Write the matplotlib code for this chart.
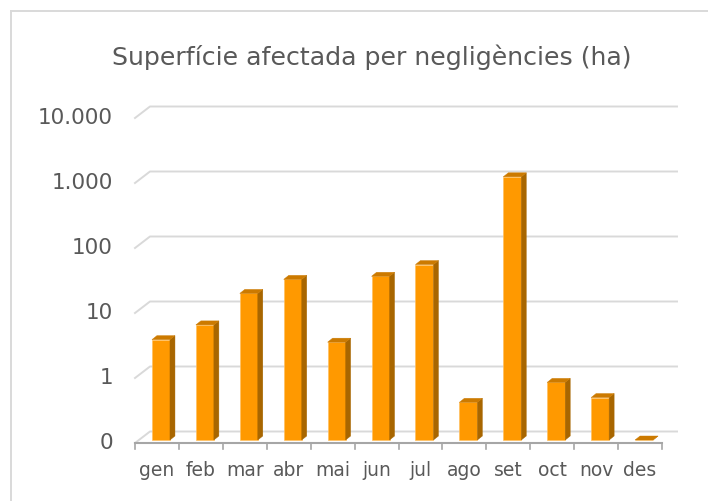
import matplotlib
matplotlib.use('Agg')
import matplotlib.pyplot as plt
from matplotlib.patches import Polygon
from matplotlib.lines import Line2D
from matplotlib.transforms import IdentityTransform, offset_copy
import numpy as np

# ---- data ----
months = ['gen', 'feb', 'mar', 'abr', 'mai', 'jun', 'jul', 'ago', 'set', 'oct', 'nov', 'des']
values = [3.5, 5.9, 18, 29.6, 3.2, 33, 50, 0.38, 1120, 0.77, 0.45, 0.1]
ytick_values = [0.1, 1, 10, 100, 1000, 10000]
ytick_labels = ['0', '1', '10', '100', '1.000', '10.000']
title = 'Superfície afectada per negligències (ha)'

# ---- style ----
W, H = 708, 501
TEXT = '#595959'
GRID = '#D9D9D9'
AXIS = '#A6A6A6'
FRONT = '#FF9900'
SIDE = '#A86600'
TOP = '#CC7A00'
FONT = 'DejaVu Sans'

DEPTH_DX, DEPTH_DY = 15, 11.5   # back wall offset (px)
BAR_DX, BAR_DY = 4, 3           # bar plane offset (px)
SIDE_DX, SIDE_DY = 5, 4         # bar depth (px)
BAR_W = 0.41

fig = plt.figure(figsize=(W / 100, H / 100), dpi=100)
ax = fig.add_axes([135 / W, (H - 443) / H, 527 / W, 325 / H])
ax.set_yscale('log')
ax.set_ylim(0.1, 10000)
ax.set_xlim(-0.5, len(months) - 0.5)
ax.axis('off')

ident = IdentityTransform()
td = ax.transData
xmin, xmax = ax.get_xlim()
front_width = td.transform((xmax, 1))[0] - td.transform((xmin, 1))[0]

# gridlines (front stub + back wall)
for v in ytick_values:
    p0 = td.transform((xmin, v))
    xs = [p0[0], p0[0] + DEPTH_DX, p0[0] + DEPTH_DX + front_width]
    ys = [p0[1], p0[1] + DEPTH_DY, p0[1] + DEPTH_DY]
    ax.add_line(Line2D(xs, ys, transform=ident, color=GRID, lw=1.4,
                       clip_on=False, zorder=1))

# front x axis + ticks
ax.plot([xmin, xmax], [0.1, 0.1], color=AXIS, lw=1.5, clip_on=False, zorder=3)
for b in np.arange(xmin, xmax + 0.01, 1.0):
    p = td.transform((b, 0.1))
    ax.add_line(Line2D([p[0], p[0]], [p[1], p[1] - 6], transform=ident,
                       color=AXIS, lw=1.2, clip_on=False, zorder=3))

# y labels
lab_tr = offset_copy(td, fig=fig, x=-22, y=0, units='dots')
for v, s in zip(ytick_values, ytick_labels):
    ax.text(xmin, v, s, transform=lab_tr, ha='right', va='center',
            fontsize=15.5, color=TEXT, family=FONT)

# x labels
xl_tr = offset_copy(td, fig=fig, x=0, y=-28, units='dots')
x = np.arange(len(months))
for xi, m in zip(x, months):
    ax.text(xi, 0.1, m, transform=xl_tr, ha='center', va='center',
            fontsize=13.5, color=TEXT, family=FONT)

# bars: front faces
bar_tr = offset_copy(td, fig=fig, x=BAR_DX, y=BAR_DY, units='dots')
heights = [v - 0.1 for v in values]
ax.bar(x, heights, bottom=0.1, width=BAR_W, color=FRONT, edgecolor='#FFC060',
       linewidth=0.5, transform=bar_tr, zorder=4, clip_on=False)

# side & top faces
for xi, v in zip(x, values):
    fl = td.transform((xi - BAR_W / 2, 0.1)) + (BAR_DX, BAR_DY)
    fr = td.transform((xi + BAR_W / 2, 0.1)) + (BAR_DX, BAR_DY)
    tl = td.transform((xi - BAR_W / 2, v)) + (BAR_DX, BAR_DY)
    tr = td.transform((xi + BAR_W / 2, v)) + (BAR_DX, BAR_DY)
    d = np.array([SIDE_DX, SIDE_DY])
    side = Polygon([fr, tr, tr + d, fr + d], closed=True, transform=ident,
                   facecolor=SIDE, edgecolor=SIDE, lw=0.3, zorder=4, clip_on=False)
    top = Polygon([tl, tr, tr + d, tl + d], closed=True, transform=ident,
                  facecolor=TOP, edgecolor=TOP, lw=0.3, zorder=5, clip_on=False)
    ax.add_patch(side)
    ax.add_patch(top)

# title
fig.text(372 / W, (H - 57) / H, title, ha='center', va='center',
         fontsize=18.2, color=TEXT, family=FONT)

# outer border (top & left visible)
fig.add_artist(Line2D([10.5 / W, 1.0], [(H - 10.5) / H, (H - 10.5) / H],
                      transform=fig.transFigure, color=GRID, lw=1.4))
fig.add_artist(Line2D([10.5 / W, 10.5 / W], [0.0, (H - 10.5) / H],
                      transform=fig.transFigure, color=GRID, lw=1.4))

fig.savefig('out.png', dpi=100, facecolor='white')
